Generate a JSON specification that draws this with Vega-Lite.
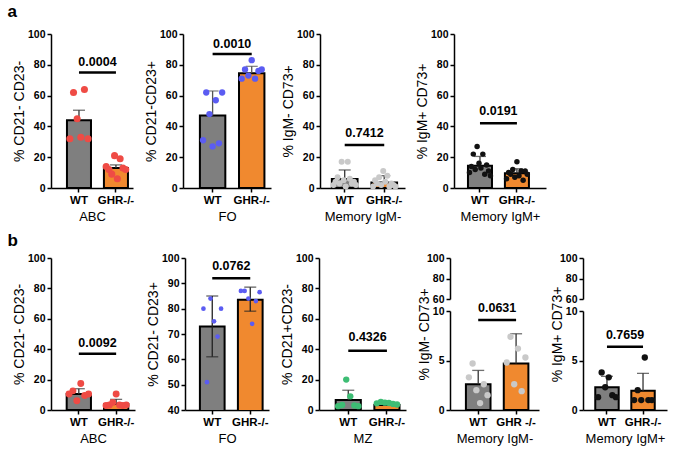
{
"$schema": "https://vega.github.io/schema/vega-lite/v6.json",
"padding": {"left": 7, "top": 3, "right": 4, "bottom": 2},
"datasets": {
"a1b": [{"g":"WT","mean":44,"hi":50.5},{"g":"GHR-/-","mean":13,"hi":15}],
"a1p": [{"g":"WT","m":1,"v":32},{"g":"WT","m":2,"v":62},{"g":"WT","m":3,"v":45},{"g":"WT","m":4,"v":33},{"g":"WT","m":5,"v":64},{"g":"WT","m":6,"v":32},
{"g":"GHR-/-","m":1,"v":14},{"g":"GHR-/-","m":2,"v":12},{"g":"GHR-/-","m":3,"v":9},{"g":"GHR-/-","m":4,"v":21},{"g":"GHR-/-","m":5,"v":6},{"g":"GHR-/-","m":6,"v":19},{"g":"GHR-/-","m":7,"v":13},{"g":"GHR-/-","m":8,"v":12}],
"a1s": [{"a":"WT","b":"GHR-/-","y":75,"t":81.5,"p":"0.0004"}],
"a2b": [{"g":"WT","mean":47,"hi":63},{"g":"GHR-/-","mean":74.5,"hi":79}],
"a2p": [{"g":"WT","m":1,"v":31},{"g":"WT","m":2,"v":62},{"g":"WT","m":3,"v":48},{"g":"WT","m":4,"v":27},{"g":"WT","m":5,"v":57},{"g":"WT","m":6,"v":29},{"g":"WT","m":7,"v":62},
{"g":"GHR-/-","m":1,"v":71},{"g":"GHR-/-","m":2,"v":77},{"g":"GHR-/-","m":3,"v":73},{"g":"GHR-/-","m":4,"v":83},{"g":"GHR-/-","m":5,"v":71},{"g":"GHR-/-","m":6,"v":76},{"g":"GHR-/-","m":7,"v":77}],
"a2s": [{"a":"WT","b":"GHR-/-","y":87,"t":93.5,"p":"0.0010"}],
"a3b": [{"g":"WT","mean":5.8,"hi":11.7},{"g":"GHR-/-","mean":3.5,"hi":8}],
"a3p": [{"g":"WT","m":1,"v":2},{"g":"WT","m":2,"v":4},{"g":"WT","m":3,"v":7},{"g":"WT","m":4,"v":3},{"g":"WT","m":5,"v":17},{"g":"WT","m":6,"v":5},{"g":"WT","m":7,"v":1},{"g":"WT","m":8,"v":17},{"g":"WT","m":9,"v":6},{"g":"WT","m":10,"v":3},{"g":"WT","m":11,"v":4},{"g":"WT","m":12,"v":2},
{"g":"GHR-/-","m":1,"v":1},{"g":"GHR-/-","m":2,"v":5},{"g":"GHR-/-","m":3,"v":3},{"g":"GHR-/-","m":4,"v":7},{"g":"GHR-/-","m":5,"v":2},{"g":"GHR-/-","m":6,"v":11},{"g":"GHR-/-","m":7,"v":4},{"g":"GHR-/-","m":8,"v":8},{"g":"GHR-/-","m":9,"v":1},{"g":"GHR-/-","m":10,"v":3},{"g":"GHR-/-","m":11,"v":2},{"g":"GHR-/-","m":12,"v":1}],
"a3s": [{"a":"WT","b":"GHR-/-","y":28,"t":36,"p":"0.7412"}],
"a4b": [{"g":"WT","mean":14.5,"hi":20.5},{"g":"GHR-/-","mean":9.5,"hi":12.5}],
"a4p": [{"g":"WT","m":1,"v":10},{"g":"WT","m":2,"v":14},{"g":"WT","m":3,"v":22},{"g":"WT","m":4,"v":12},{"g":"WT","m":5,"v":27},{"g":"WT","m":6,"v":16},{"g":"WT","m":7,"v":13},{"g":"WT","m":8,"v":22},{"g":"WT","m":9,"v":9},{"g":"WT","m":10,"v":15},{"g":"WT","m":11,"v":11},{"g":"WT","m":12,"v":8},
{"g":"GHR-/-","m":1,"v":6},{"g":"GHR-/-","m":2,"v":10},{"g":"GHR-/-","m":3,"v":9},{"g":"GHR-/-","m":4,"v":12},{"g":"GHR-/-","m":5,"v":7},{"g":"GHR-/-","m":6,"v":17},{"g":"GHR-/-","m":7,"v":8},{"g":"GHR-/-","m":8,"v":11},{"g":"GHR-/-","m":9,"v":5},{"g":"GHR-/-","m":10,"v":11},{"g":"GHR-/-","m":11,"v":9}],
"a4s": [{"a":"WT","b":"GHR-/-","y":42,"t":50,"p":"0.0191"}],
"b1b": [{"g":"WT","mean":10.5,"hi":14},{"g":"GHR-/-","mean":4,"hi":7}],
"b1p": [{"g":"WT","m":1,"v":10.5},{"g":"WT","m":2,"v":12.6},{"g":"WT","m":3,"v":6.1},{"g":"WT","m":4,"v":17.4},{"g":"WT","m":5,"v":9.5},{"g":"WT","m":6,"v":10.5},
{"g":"GHR-/-","m":1,"v":3},{"g":"GHR-/-","m":2,"v":3.3},{"g":"GHR-/-","m":3,"v":5},{"g":"GHR-/-","m":4,"v":10.5},{"g":"GHR-/-","m":5,"v":3.3},{"g":"GHR-/-","m":6,"v":3},{"g":"GHR-/-","m":7,"v":3.3}],
"b1s": [{"a":"WT","b":"GHR-/-","y":37,"t":44,"p":"0.0092"}],
"b2b": [{"g":"WT","mean":73,"lo":61,"hi":85},{"g":"GHR-/-","mean":83.5,"lo":79,"hi":88.5}],
"b2p": [{"g":"WT","m":1,"v":80},{"g":"WT","m":2,"v":51},{"g":"WT","m":3,"v":84},{"g":"WT","m":4,"v":75},{"g":"WT","m":5,"v":69},{"g":"WT","m":6,"v":80},
{"g":"GHR-/-","m":1,"v":87},{"g":"GHR-/-","m":2,"v":87},{"g":"GHR-/-","m":3,"v":84},{"g":"GHR-/-","m":4,"v":74},{"g":"GHR-/-","m":5,"v":83},{"g":"GHR-/-","m":6,"v":86.5}],
"b2s": [{"a":"WT","b":"GHR-/-","y":92,"t":97,"p":"0.0762"}],
"b3b": [{"g":"WT","mean":6.5,"hi":13},{"g":"GHR-/-","mean":3.3,"hi":4.8}],
"b3p": [{"g":"WT","m":1,"v":2.5},{"g":"WT","m":2,"v":3.3},{"g":"WT","m":3,"v":20},{"g":"WT","m":4,"v":9},{"g":"WT","m":5,"v":3},{"g":"WT","m":6,"v":2.5},
{"g":"GHR-/-","m":1,"v":4.4},{"g":"GHR-/-","m":2,"v":5.3},{"g":"GHR-/-","m":3,"v":4.8},{"g":"GHR-/-","m":4,"v":4.6},{"g":"GHR-/-","m":5,"v":4},{"g":"GHR-/-","m":6,"v":3.6}],
"b3s": [{"a":"WT","b":"GHR-/-","y":39,"t":48,"p":"0.4326"}],
"b4b": [{"g":"WT","mean":2.6,"hi":4.0},{"g":"GHR-/-","mean":4.7,"hi":7.7}],
"b4p": [{"g":"WT","m":1,"v":3.3},{"g":"WT","m":2,"v":4.7},{"g":"WT","m":3,"v":2.0},{"g":"WT","m":4,"v":0.7},{"g":"WT","m":5,"v":2.6},{"g":"WT","m":6,"v":1.5},
{"g":"GHR-/-","m":1,"v":4.8},{"g":"GHR-/-","m":2,"v":7.4},{"g":"GHR-/-","m":3,"v":2.6},{"g":"GHR-/-","m":4,"v":6.2},{"g":"GHR-/-","m":5,"v":1.9},{"g":"GHR-/-","m":6,"v":5.3}],
"b4s": [{"a":"WT","b":"GHR-/-","y":9.1,"t":10.3,"p":"0.0631"}],
"b5b": [{"g":"WT","mean":2.3,"hi":3.4},{"g":"GHR-/-","mean":1.95,"hi":3.7}],
"b5p": [{"g":"WT","m":1,"v":1.3},{"g":"WT","m":2,"v":3.8},{"g":"WT","m":3,"v":2.3},{"g":"WT","m":4,"v":3.3},{"g":"WT","m":5,"v":1.5},{"g":"WT","m":6,"v":1.3},
{"g":"GHR-/-","m":1,"v":1.0},{"g":"GHR-/-","m":2,"v":2.0},{"g":"GHR-/-","m":3,"v":1.0},{"g":"GHR-/-","m":4,"v":5.3},{"g":"GHR-/-","m":5,"v":1.0},{"g":"GHR-/-","m":6,"v":1.0}],
"b5s": [{"a":"WT","b":"GHR-/-","y":6.4,"t":7.6,"p":"0.7659"}]
},
"vconcat": [
{
"title": {"text": "a", "offset": 8, "dx": -5},
"spacing": 10,
"hconcat": [
{"width": 82, "height": 154, "resolve": {"scale": {"xOffset": "independent"}},
"layer": [
{"data": {"name": "a1b"}, "mark": {"type": "bar", "stroke": "#000", "strokeWidth": 2},
"encoding": {"x": {"field": "g", "type": "nominal", "scale": {"domain": ["WT","GHR-/-"], "paddingInner": 0.35, "paddingOuter": 0.284, "align": 0.76}, "axis": {"title": "ABC"}},
"y": {"field": "mean", "type": "quantitative", "scale": {"domain": [0,100]}, "axis": {"title": "% CD21- CD23-", "values": [0,20,40,60,80,100], "tickCount": 12}},
"color": {"field": "g", "type": "nominal", "scale": {"domain": ["WT","GHR-/-"], "range": ["#7f7f7f","#f0892f"]}, "legend": null}}},
{"data": {"name": "a1b"}, "mark": {"type": "rule", "color": "#333", "strokeWidth": 1.3}, "encoding": {"x": {"field": "g", "type": "nominal"}, "y": {"field": "mean", "type": "quantitative"}, "y2": {"field": "hi"}}},
{"data": {"name": "a1b"}, "mark": {"type": "tick", "color": "#333", "thickness": 1.3, "size": 12}, "encoding": {"x": {"field": "g", "type": "nominal"}, "y": {"field": "hi", "type": "quantitative"}}},
{"data": {"name": "a1p"}, "transform": [{"filter": "datum.g == 'WT'"}], "mark": {"type": "circle", "size": 50, "color": "#ef4b45", "opacity": 1}, "encoding": {"x": {"field": "g", "type": "nominal"}, "xOffset": {"field": "m", "type": "nominal", "scale": {"paddingOuter": 0.8}}, "y": {"field": "v", "type": "quantitative"}}},
{"data": {"name": "a1p"}, "transform": [{"filter": "datum.g != 'WT'"}], "mark": {"type": "circle", "size": 50, "color": "#ef4b45", "opacity": 1}, "encoding": {"x": {"field": "g", "type": "nominal"}, "xOffset": {"field": "m", "type": "nominal", "scale": {"paddingOuter": 0.8}}, "y": {"field": "v", "type": "quantitative"}}},
{"data": {"name": "a1s"}, "mark": {"type": "rule", "color": "#000", "strokeWidth": 2.5}, "encoding": {"x": {"field": "a", "type": "nominal"}, "x2": {"field": "b"}, "y": {"field": "y", "type": "quantitative"}}},
{"data": {"name": "a1s"}, "mark": {"type": "text", "fontWeight": "bold", "fontSize": 12.5}, "encoding": {"x": {"field": "a", "type": "nominal", "bandPosition": 1.269}, "y": {"field": "t", "type": "quantitative"}, "text": {"field": "p"}}}
]},
{"width": 88, "height": 154, "resolve": {"scale": {"xOffset": "independent"}},
"layer": [
{"data": {"name": "a2b"}, "mark": {"type": "bar", "stroke": "#000", "strokeWidth": 2},
"encoding": {"x": {"field": "g", "type": "nominal", "scale": {"domain": ["WT","GHR-/-"], "paddingInner": 0.35, "paddingOuter": 0.3, "align": 0.72}, "axis": {"title": "FO"}},
"y": {"field": "mean", "type": "quantitative", "scale": {"domain": [0,100]}, "axis": {"title": "% CD21-CD23+", "values": [0,20,40,60,80,100], "tickCount": 12}},
"color": {"field": "g", "type": "nominal", "scale": {"domain": ["WT","GHR-/-"], "range": ["#7f7f7f","#f0892f"]}, "legend": null}}},
{"data": {"name": "a2b"}, "mark": {"type": "rule", "color": "#555", "strokeWidth": 1.3}, "encoding": {"x": {"field": "g", "type": "nominal"}, "y": {"field": "mean", "type": "quantitative"}, "y2": {"field": "hi"}}},
{"data": {"name": "a2b"}, "mark": {"type": "tick", "color": "#555", "thickness": 1.3, "size": 12}, "encoding": {"x": {"field": "g", "type": "nominal"}, "y": {"field": "hi", "type": "quantitative"}}},
{"data": {"name": "a2p"}, "transform": [{"filter": "datum.g == 'WT'"}], "mark": {"type": "circle", "size": 40, "color": "#5b5cf2", "opacity": 1}, "encoding": {"x": {"field": "g", "type": "nominal"}, "xOffset": {"field": "m", "type": "nominal", "scale": {"paddingOuter": 1.5}}, "y": {"field": "v", "type": "quantitative"}}},
{"data": {"name": "a2p"}, "transform": [{"filter": "datum.g != 'WT'"}], "mark": {"type": "circle", "size": 40, "color": "#5b5cf2", "opacity": 1}, "encoding": {"x": {"field": "g", "type": "nominal"}, "xOffset": {"field": "m", "type": "nominal", "scale": {"paddingOuter": 0.8}}, "y": {"field": "v", "type": "quantitative"}}},
{"data": {"name": "a2s"}, "mark": {"type": "rule", "color": "#000", "strokeWidth": 2.5}, "encoding": {"x": {"field": "a", "type": "nominal"}, "x2": {"field": "b"}, "y": {"field": "y", "type": "quantitative"}}},
{"data": {"name": "a2s"}, "mark": {"type": "text", "fontWeight": "bold", "fontSize": 12.5}, "encoding": {"x": {"field": "a", "type": "nominal", "bandPosition": 1.269}, "y": {"field": "t", "type": "quantitative"}, "text": {"field": "p"}}}
]},
{"width": 85, "height": 154, "resolve": {"scale": {"xOffset": "independent"}},
"layer": [
{"data": {"name": "a3b"}, "mark": {"type": "bar", "stroke": "#000", "strokeWidth": 2},
"encoding": {"x": {"field": "g", "type": "nominal", "scale": {"domain": ["WT","GHR-/-"], "paddingInner": 0.35, "paddingOuter": 0.25, "align": 0.6}, "axis": {"title": "Memory IgM-"}},
"y": {"field": "mean", "type": "quantitative", "scale": {"domain": [0,100]}, "axis": {"title": "% IgM- CD73+", "values": [0,20,40,60,80,100], "tickCount": 12}},
"color": {"field": "g", "type": "nominal", "scale": {"domain": ["WT","GHR-/-"], "range": ["#7f7f7f","#f0892f"]}, "legend": null}}},
{"data": {"name": "a3b"}, "mark": {"type": "rule", "color": "#333", "strokeWidth": 1.3}, "encoding": {"x": {"field": "g", "type": "nominal"}, "y": {"field": "mean", "type": "quantitative"}, "y2": {"field": "hi"}}},
{"data": {"name": "a3b"}, "mark": {"type": "tick", "color": "#333", "thickness": 1.3, "size": 12}, "encoding": {"x": {"field": "g", "type": "nominal"}, "y": {"field": "hi", "type": "quantitative"}}},
{"data": {"name": "a3p"}, "transform": [{"filter": "datum.g == 'WT'"}], "mark": {"type": "circle", "size": 36, "color": "#c9c9c9", "opacity": 1}, "encoding": {"x": {"field": "g", "type": "nominal"}, "xOffset": {"field": "m", "type": "nominal", "scale": {"paddingOuter": 0.8}}, "y": {"field": "v", "type": "quantitative"}}},
{"data": {"name": "a3p"}, "transform": [{"filter": "datum.g != 'WT'"}], "mark": {"type": "circle", "size": 36, "color": "#c9c9c9", "opacity": 1}, "encoding": {"x": {"field": "g", "type": "nominal"}, "xOffset": {"field": "m", "type": "nominal", "scale": {"paddingOuter": 0.8}}, "y": {"field": "v", "type": "quantitative"}}},
{"data": {"name": "a3s"}, "mark": {"type": "rule", "color": "#000", "strokeWidth": 2.5}, "encoding": {"x": {"field": "a", "type": "nominal"}, "x2": {"field": "b"}, "y": {"field": "y", "type": "quantitative"}}},
{"data": {"name": "a3s"}, "mark": {"type": "text", "fontWeight": "bold", "fontSize": 12.5}, "encoding": {"x": {"field": "a", "type": "nominal", "bandPosition": 1.269}, "y": {"field": "t", "type": "quantitative"}, "text": {"field": "p"}}}
]},
{"width": 92, "height": 154, "resolve": {"scale": {"xOffset": "independent"}},
"layer": [
{"data": {"name": "a4b"}, "mark": {"type": "bar", "stroke": "#000", "strokeWidth": 2},
"encoding": {"x": {"field": "g", "type": "nominal", "scale": {"domain": ["WT","GHR-/-"], "paddingInner": 0.35, "paddingOuter": 0.42, "align": 0.45}, "axis": {"title": "Memory IgM+"}},
"y": {"field": "mean", "type": "quantitative", "scale": {"domain": [0,100]}, "axis": {"title": "% IgM+ CD73+", "values": [0,20,40,60,80,100], "tickCount": 12}},
"color": {"field": "g", "type": "nominal", "scale": {"domain": ["WT","GHR-/-"], "range": ["#7f7f7f","#f0892f"]}, "legend": null}}},
{"data": {"name": "a4b"}, "mark": {"type": "rule", "color": "#333", "strokeWidth": 1.3}, "encoding": {"x": {"field": "g", "type": "nominal"}, "y": {"field": "mean", "type": "quantitative"}, "y2": {"field": "hi"}}},
{"data": {"name": "a4b"}, "mark": {"type": "tick", "color": "#333", "thickness": 1.3, "size": 12}, "encoding": {"x": {"field": "g", "type": "nominal"}, "y": {"field": "hi", "type": "quantitative"}}},
{"data": {"name": "a4p"}, "transform": [{"filter": "datum.g == 'WT'"}], "mark": {"type": "circle", "size": 30, "color": "#111", "opacity": 1}, "encoding": {"x": {"field": "g", "type": "nominal"}, "xOffset": {"field": "m", "type": "nominal", "scale": {"paddingOuter": 0.8}}, "y": {"field": "v", "type": "quantitative"}}},
{"data": {"name": "a4p"}, "transform": [{"filter": "datum.g != 'WT'"}], "mark": {"type": "circle", "size": 30, "color": "#111", "opacity": 1}, "encoding": {"x": {"field": "g", "type": "nominal"}, "xOffset": {"field": "m", "type": "nominal", "scale": {"paddingOuter": 0.8}}, "y": {"field": "v", "type": "quantitative"}}},
{"data": {"name": "a4s"}, "mark": {"type": "rule", "color": "#000", "strokeWidth": 2.5}, "encoding": {"x": {"field": "a", "type": "nominal"}, "x2": {"field": "b"}, "y": {"field": "y", "type": "quantitative"}}},
{"data": {"name": "a4s"}, "mark": {"type": "text", "fontWeight": "bold", "fontSize": 12.5}, "encoding": {"x": {"field": "a", "type": "nominal", "bandPosition": 1.269}, "y": {"field": "t", "type": "quantitative"}, "text": {"field": "p"}}}
]}
]
},
{
"title": {"text": "b", "offset": 3, "dx": -5},
"spacing": 11,
"hconcat": [
{"width": 84, "height": 152, "resolve": {"scale": {"xOffset": "independent"}},
"layer": [
{"data": {"name": "b1b"}, "mark": {"type": "bar", "stroke": "#000", "strokeWidth": 2},
"encoding": {"x": {"field": "g", "type": "nominal", "scale": {"domain": ["WT","GHR-/-"], "paddingInner": 0.35, "paddingOuter": 0.3, "align": 0.7}, "axis": {"title": "ABC"}},
"y": {"field": "mean", "type": "quantitative", "scale": {"domain": [0,100]}, "axis": {"title": "% CD21- CD23-", "values": [0,20,40,60,80,100], "tickCount": 12}},
"color": {"field": "g", "type": "nominal", "scale": {"domain": ["WT","GHR-/-"], "range": ["#7f7f7f","#f0892f"]}, "legend": null}}},
{"data": {"name": "b1b"}, "mark": {"type": "rule", "color": "#333", "strokeWidth": 1.3}, "encoding": {"x": {"field": "g", "type": "nominal"}, "y": {"field": "mean", "type": "quantitative"}, "y2": {"field": "hi"}}},
{"data": {"name": "b1b"}, "mark": {"type": "tick", "color": "#333", "thickness": 1.3, "size": 12}, "encoding": {"x": {"field": "g", "type": "nominal"}, "y": {"field": "hi", "type": "quantitative"}}},
{"data": {"name": "b1p"}, "transform": [{"filter": "datum.g == 'WT'"}], "mark": {"type": "circle", "size": 48, "color": "#ef4b45", "opacity": 1}, "encoding": {"x": {"field": "g", "type": "nominal"}, "xOffset": {"field": "m", "type": "nominal", "scale": {"paddingOuter": 0.6}}, "y": {"field": "v", "type": "quantitative"}}},
{"data": {"name": "b1p"}, "transform": [{"filter": "datum.g != 'WT'"}], "mark": {"type": "circle", "size": 48, "color": "#ef4b45", "opacity": 1}, "encoding": {"x": {"field": "g", "type": "nominal"}, "xOffset": {"field": "m", "type": "nominal", "scale": {"paddingOuter": 0.6}}, "y": {"field": "v", "type": "quantitative"}}},
{"data": {"name": "b1s"}, "mark": {"type": "rule", "color": "#000", "strokeWidth": 2.5}, "encoding": {"x": {"field": "a", "type": "nominal"}, "x2": {"field": "b"}, "y": {"field": "y", "type": "quantitative"}}},
{"data": {"name": "b1s"}, "mark": {"type": "text", "fontWeight": "bold", "fontSize": 12.5}, "encoding": {"x": {"field": "a", "type": "nominal", "bandPosition": 1.269}, "y": {"field": "t", "type": "quantitative"}, "text": {"field": "p"}}}
]},
{"width": 84, "height": 152, "resolve": {"scale": {"xOffset": "independent"}},
"layer": [
{"data": {"name": "b2b"}, "mark": {"type": "bar", "stroke": "#000", "strokeWidth": 2, "clip": true},
"encoding": {"x": {"field": "g", "type": "nominal", "scale": {"domain": ["WT","GHR-/-"], "paddingInner": 0.35, "paddingOuter": 0.28, "align": 0.7}, "axis": {"title": "FO"}},
"y": {"field": "mean", "type": "quantitative", "scale": {"domain": [40,100], "zero": false}, "axis": {"title": "% CD21- CD23+", "values": [40,50,60,70,80,90,100], "tickCount": 12}},
"color": {"field": "g", "type": "nominal", "scale": {"domain": ["WT","GHR-/-"], "range": ["#7f7f7f","#f0892f"]}, "legend": null}}},
{"data": {"name": "b2b"}, "mark": {"type": "rule", "color": "#222", "strokeWidth": 1.3}, "encoding": {"x": {"field": "g", "type": "nominal"}, "y": {"field": "lo", "type": "quantitative"}, "y2": {"field": "hi"}}},
{"data": {"name": "b2b"}, "mark": {"type": "tick", "color": "#222", "thickness": 1.3, "size": 12}, "encoding": {"x": {"field": "g", "type": "nominal"}, "y": {"field": "hi", "type": "quantitative"}}},
{"data": {"name": "b2b"}, "mark": {"type": "tick", "color": "#222", "thickness": 1.3, "size": 12}, "encoding": {"x": {"field": "g", "type": "nominal"}, "y": {"field": "lo", "type": "quantitative"}}},
{"data": {"name": "b2p"}, "transform": [{"filter": "datum.g == 'WT'"}], "mark": {"type": "circle", "size": 22, "color": "#5b5cf2", "opacity": 1}, "encoding": {"x": {"field": "g", "type": "nominal"}, "xOffset": {"field": "m", "type": "nominal", "scale": {"paddingOuter": 1.2}}, "y": {"field": "v", "type": "quantitative"}}},
{"data": {"name": "b2p"}, "transform": [{"filter": "datum.g != 'WT'"}], "mark": {"type": "circle", "size": 22, "color": "#5b5cf2", "opacity": 1}, "encoding": {"x": {"field": "g", "type": "nominal"}, "xOffset": {"field": "m", "type": "nominal", "scale": {"paddingOuter": 0.8}}, "y": {"field": "v", "type": "quantitative"}}},
{"data": {"name": "b2s"}, "mark": {"type": "rule", "color": "#000", "strokeWidth": 2.5}, "encoding": {"x": {"field": "a", "type": "nominal"}, "x2": {"field": "b"}, "y": {"field": "y", "type": "quantitative"}}},
{"data": {"name": "b2s"}, "mark": {"type": "text", "fontWeight": "bold", "fontSize": 12.5}, "encoding": {"x": {"field": "a", "type": "nominal", "bandPosition": 1.269}, "y": {"field": "t", "type": "quantitative"}, "text": {"field": "p"}}}
]},
{"width": 87, "height": 152, "resolve": {"scale": {"xOffset": "independent"}},
"layer": [
{"data": {"name": "b3b"}, "mark": {"type": "bar", "stroke": "#000", "strokeWidth": 2},
"encoding": {"x": {"field": "g", "type": "nominal", "scale": {"domain": ["WT","GHR-/-"], "paddingInner": 0.35, "paddingOuter": 0.3, "align": 0.72}, "axis": {"title": "MZ"}},
"y": {"field": "mean", "type": "quantitative", "scale": {"domain": [0,100]}, "axis": {"title": "% CD21+CD23-", "values": [0,20,40,60,80,100], "tickCount": 12}},
"color": {"field": "g", "type": "nominal", "scale": {"domain": ["WT","GHR-/-"], "range": ["#7f7f7f","#f0892f"]}, "legend": null}}},
{"data": {"name": "b3b"}, "mark": {"type": "rule", "color": "#333", "strokeWidth": 1.3}, "encoding": {"x": {"field": "g", "type": "nominal"}, "y": {"field": "mean", "type": "quantitative"}, "y2": {"field": "hi"}}},
{"data": {"name": "b3b"}, "mark": {"type": "tick", "color": "#333", "thickness": 1.3, "size": 12}, "encoding": {"x": {"field": "g", "type": "nominal"}, "y": {"field": "hi", "type": "quantitative"}}},
{"data": {"name": "b3p"}, "transform": [{"filter": "datum.g == 'WT'"}], "mark": {"type": "circle", "size": 40, "color": "#3dbd74", "opacity": 1}, "encoding": {"x": {"field": "g", "type": "nominal"}, "xOffset": {"field": "m", "type": "nominal", "scale": {"paddingOuter": 0.6}}, "y": {"field": "v", "type": "quantitative"}}},
{"data": {"name": "b3p"}, "transform": [{"filter": "datum.g != 'WT'"}], "mark": {"type": "circle", "size": 40, "color": "#3dbd74", "opacity": 1}, "encoding": {"x": {"field": "g", "type": "nominal"}, "xOffset": {"field": "m", "type": "nominal", "scale": {"paddingOuter": 0.6}}, "y": {"field": "v", "type": "quantitative"}}},
{"data": {"name": "b3s"}, "mark": {"type": "rule", "color": "#000", "strokeWidth": 2.5}, "encoding": {"x": {"field": "a", "type": "nominal"}, "x2": {"field": "b"}, "y": {"field": "y", "type": "quantitative"}}},
{"data": {"name": "b3s"}, "mark": {"type": "text", "fontWeight": "bold", "fontSize": 12.5}, "encoding": {"x": {"field": "a", "type": "nominal", "bandPosition": 1.269}, "y": {"field": "t", "type": "quantitative"}, "text": {"field": "p"}}}
]},
{"vconcat": [
{"width": 89, "height": 41, "data": {"name": "b4b"}, "mark": {"type": "bar", "clip": true},
"encoding": {"x": {"field": "g", "type": "nominal", "axis": null, "scale": {"domain": ["WT","GHR-/-"]}},
"y": {"field": "mean", "type": "quantitative", "scale": {"domain": [60,100]}, "axis": {"title": null, "values": [60,80,100], "tickCount": 12}}}},
{"width": 89, "height": 99, "resolve": {"scale": {"xOffset": "independent"}},
"layer": [
{"data": {"name": "b4b"}, "mark": {"type": "bar", "stroke": "#000", "strokeWidth": 2},
"encoding": {"x": {"field": "g", "type": "nominal", "scale": {"domain": ["WT","GHR-/-"], "paddingInner": 0.35, "paddingOuter": 0.35, "align": 0.6}, "axis": {"title": "Memory IgM-", "labelExpr": "datum.label == 'GHR-/-' ? 'GHR -/-' : datum.label"}},
"y": {"field": "mean", "type": "quantitative", "scale": {"domain": [0,10]}, "axis": {"title": "% IgM- CD73+", "values": [0,5,10], "tickCount": 12, "titleY": 23}},
"color": {"field": "g", "type": "nominal", "scale": {"domain": ["WT","GHR-/-"], "range": ["#7f7f7f","#f0892f"]}, "legend": null}}},
{"data": {"name": "b4b"}, "mark": {"type": "rule", "color": "#333", "strokeWidth": 1.3}, "encoding": {"x": {"field": "g", "type": "nominal"}, "y": {"field": "mean", "type": "quantitative"}, "y2": {"field": "hi"}}},
{"data": {"name": "b4b"}, "mark": {"type": "tick", "color": "#333", "thickness": 1.3, "size": 12}, "encoding": {"x": {"field": "g", "type": "nominal"}, "y": {"field": "hi", "type": "quantitative"}}},
{"data": {"name": "b4p"}, "transform": [{"filter": "datum.g == 'WT'"}], "mark": {"type": "circle", "size": 40, "color": "#c9c9c9", "opacity": 1}, "encoding": {"x": {"field": "g", "type": "nominal"}, "xOffset": {"field": "m", "type": "nominal", "scale": {"paddingOuter": 0.8}}, "y": {"field": "v", "type": "quantitative"}}},
{"data": {"name": "b4p"}, "transform": [{"filter": "datum.g != 'WT'"}], "mark": {"type": "circle", "size": 40, "color": "#c9c9c9", "opacity": 1}, "encoding": {"x": {"field": "g", "type": "nominal"}, "xOffset": {"field": "m", "type": "nominal", "scale": {"paddingOuter": 0.8}}, "y": {"field": "v", "type": "quantitative"}}},
{"data": {"name": "b4s"}, "mark": {"type": "rule", "color": "#000", "strokeWidth": 2.5}, "encoding": {"x": {"field": "a", "type": "nominal"}, "x2": {"field": "b"}, "y": {"field": "y", "type": "quantitative"}}},
{"data": {"name": "b4s"}, "mark": {"type": "text", "fontWeight": "bold", "fontSize": 12.5}, "encoding": {"x": {"field": "a", "type": "nominal", "bandPosition": 1.269}, "y": {"field": "t", "type": "quantitative"}, "text": {"field": "p"}}}
]}
], "spacing": 12, "bounds": "flush"},
{"vconcat": [
{"width": 84, "height": 41, "data": {"name": "b5b"}, "mark": {"type": "bar", "clip": true},
"encoding": {"x": {"field": "g", "type": "nominal", "axis": null, "scale": {"domain": ["WT","GHR-/-"]}},
"y": {"field": "mean", "type": "quantitative", "scale": {"domain": [60,100]}, "axis": {"title": null, "values": [60,80,100], "tickCount": 12}}}},
{"width": 84, "height": 99, "resolve": {"scale": {"xOffset": "independent"}},
"layer": [
{"data": {"name": "b5b"}, "mark": {"type": "bar", "stroke": "#000", "strokeWidth": 2},
"encoding": {"x": {"field": "g", "type": "nominal", "scale": {"domain": ["WT","GHR-/-"], "paddingInner": 0.35, "paddingOuter": 0.34, "align": 0.5}, "axis": {"title": "Memory IgM+"}},
"y": {"field": "mean", "type": "quantitative", "scale": {"domain": [0,10]}, "axis": {"title": "% IgM+ CD73+", "values": [0,5,10], "tickCount": 12, "titleY": 23}},
"color": {"field": "g", "type": "nominal", "scale": {"domain": ["WT","GHR-/-"], "range": ["#7f7f7f","#f0892f"]}, "legend": null}}},
{"data": {"name": "b5b"}, "mark": {"type": "rule", "color": "#333", "strokeWidth": 1.3}, "encoding": {"x": {"field": "g", "type": "nominal"}, "y": {"field": "mean", "type": "quantitative"}, "y2": {"field": "hi"}}},
{"data": {"name": "b5b"}, "mark": {"type": "tick", "color": "#333", "thickness": 1.3, "size": 12}, "encoding": {"x": {"field": "g", "type": "nominal"}, "y": {"field": "hi", "type": "quantitative"}}},
{"data": {"name": "b5p"}, "transform": [{"filter": "datum.g == 'WT'"}], "mark": {"type": "circle", "size": 40, "color": "#111", "opacity": 1}, "encoding": {"x": {"field": "g", "type": "nominal"}, "xOffset": {"field": "m", "type": "nominal", "scale": {"paddingOuter": 0.8}}, "y": {"field": "v", "type": "quantitative"}}},
{"data": {"name": "b5p"}, "transform": [{"filter": "datum.g != 'WT'"}], "mark": {"type": "circle", "size": 40, "color": "#111", "opacity": 1}, "encoding": {"x": {"field": "g", "type": "nominal"}, "xOffset": {"field": "m", "type": "nominal", "scale": {"paddingOuter": 0.8}}, "y": {"field": "v", "type": "quantitative"}}},
{"data": {"name": "b5s"}, "mark": {"type": "rule", "color": "#000", "strokeWidth": 2.5}, "encoding": {"x": {"field": "a", "type": "nominal"}, "x2": {"field": "b"}, "y": {"field": "y", "type": "quantitative"}}},
{"data": {"name": "b5s"}, "mark": {"type": "text", "fontWeight": "bold", "fontSize": 12.5}, "encoding": {"x": {"field": "a", "type": "nominal", "bandPosition": 1.269}, "y": {"field": "t", "type": "quantitative"}, "text": {"field": "p"}}}
]}
], "spacing": 12, "bounds": "flush"}
]
}
],
"spacing": 8,
"config": {
"font": "Liberation Sans",
"view": {"stroke": null},
"axis": {"domainColor": "#000", "domainWidth": 1.5, "tickColor": "#000", "tickWidth": 1.5, "tickSize": 4, "labelColor": "#000", "labelFontWeight": "bold", "labelFontSize": 10.5, "labelPadding": 2, "labelOverlap": false, "titleColor": "#000", "titleFontWeight": "normal", "titleFontSize": 14, "titlePadding": 1, "grid": false},
"axisX": {"labelAngle": 0, "labelFontSize": 11.5, "titleFontSize": 13, "titlePadding": 5, "labelPadding": 2},
"title": {"fontSize": 17, "fontWeight": "bold", "anchor": "start", "color": "#000"}
}
}
